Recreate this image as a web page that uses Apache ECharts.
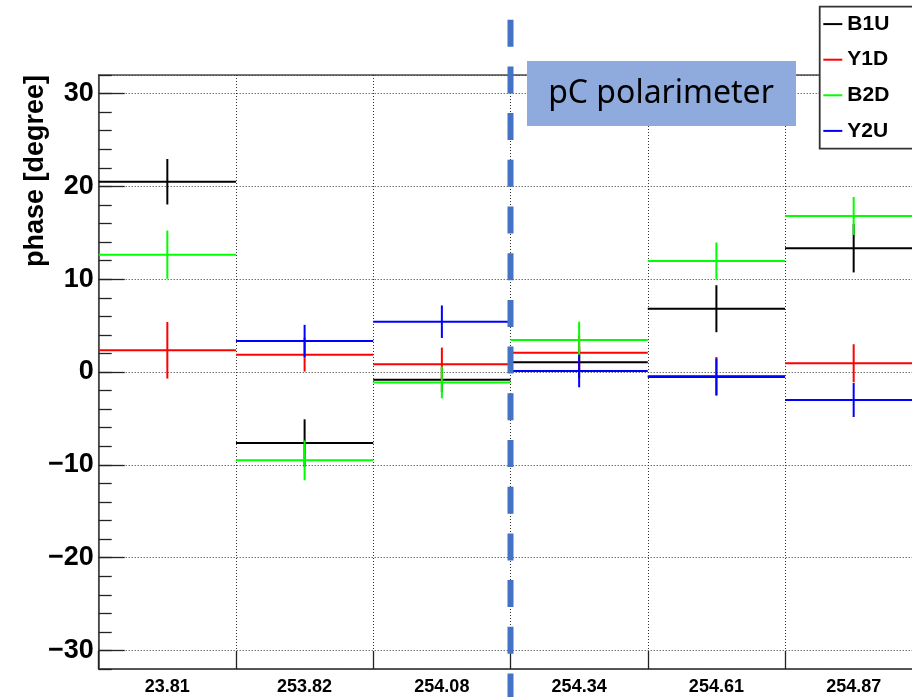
<!DOCTYPE html>
<html>
<head>
<meta charset="utf-8">
<script src="https://cdn.jsdelivr.net/npm/echarts@6/dist/echarts.min.js"></script>
<style>
  html, body { margin: 0; padding: 0; background: #fff; }
  #chart { width: 912px; height: 697px; }
</style>
</head>
<body>
<div id="chart"></div>
<script>
// ---- data ----
const categories = ['23.81', '253.82', '254.08', '254.34', '254.61', '254.87'];
const seriesNames = ['B1U', 'Y1D', 'B2D', 'Y2U'];
const seriesColors = ['#000000', '#ff0000', '#00ff00', '#0000ff'];
const b1uValues = [20.5, -7.65, -0.83, 1.04, 6.82, 13.33];
const b1uErrors = [2.45, 2.55, 1.3, 1.7, 2.53, 2.6];
const y1dValues = [2.34, 1.87, 0.83, 2.08, -0.43, 0.94];
const y1dErrors = [3.05, 1.83, 1.8, 1.8, 2.05, 2.05];
const b2dValues = [12.64, -9.52, -1.13, 3.45, 11.96, 16.81];
const b2dErrors = [2.6, 2.15, 1.7, 1.97, 2.0, 2.05];
const y2uValues = [null, 3.34, 5.42, 0.11, -0.55, -3.02];
const y2uErrors = [null, 1.74, 1.75, 1.76, 2.0, 1.83];
const yTickLabels = [-30, -20, -10, 0, 10, 20, 30];
const dividerAfterCategory = 2; // dashed line between 254.08 and 254.34

const allValues = [b1uValues, y1dValues, b2dValues, y2uValues];
const allErrors = [b1uErrors, y1dErrors, b2dErrors, y2uErrors];

function buildData(vals, errs) {
  const out = [];
  vals.forEach((v, i) => { if (v !== null) out.push([i, v, errs[i]]); });
  return out;
}

function renderErr(params, api) {
  const cat = api.value(0), v = api.value(1), e = api.value(2);
  const c = api.coord([cat, v]);
  const bw = api.size([1, 0])[0];
  const top = api.coord([cat, v + e]);
  const bot = api.coord([cat, v - e]);
  const color = api.visual('color');
  return {
    type: 'group',
    children: [
      { type: 'line', shape: { x1: c[0] - bw / 2, y1: c[1], x2: c[0] + bw / 2, y2: c[1] },
        style: { stroke: color, lineWidth: 2 } },
      { type: 'line', shape: { x1: c[0], y1: top[1], x2: c[0], y2: bot[1] },
        style: { stroke: color, lineWidth: 2 } }
    ]
  };
}

const chart = echarts.init(document.getElementById('chart'), null, { renderer: 'canvas' });
const axisColor = '#4d4d4d';
const fontFam = '"Liberation Sans", Arial, Helvetica, sans-serif';

const series = seriesNames.map((name, k) => ({
  name: name,
  type: 'custom',
  xAxisIndex: 0,
  yAxisIndex: 1,
  renderItem: renderErr,
  itemStyle: { color: seriesColors[k] },
  data: buildData(allValues[k], allErrors[k]),
  z: 3 + k,
  clip: false
}));

series.push({
  name: 'divider',
  type: 'custom',
  xAxisIndex: 0,
  yAxisIndex: 1,
  clip: false,
  z: 20,
  silent: true,
  data: [[dividerAfterCategory, 0]],
  renderItem: function (params, api) {
    const c = api.coord([api.value(0), 0]);
    const bw = api.size([1, 0])[0];
    const x = c[0] + bw / 2;
    return {
      type: 'line',
      shape: { x1: x, y1: 0, x2: x, y2: api.getHeight() },
      style: { stroke: '#4472C4', lineWidth: 6, lineDash: [27, 19.7], lineDashOffset: 27, lineCap: 'butt' }
    };
  }
});

chart.setOption({
  animation: false,
  backgroundColor: '#ffffff',
  grid: {
    left: 98.7, top: 75, width: 823.6, height: 594,
    outerBoundsMode: 'none',
    containLabel: false,
    show: true, borderColor: axisColor, borderWidth: 1.5, backgroundColor: 'transparent'
  },
  legend: {
    data: seriesNames,
    orient: 'vertical',
    left: 819.5, top: 6.5,
    icon: 'rect',
    itemWidth: 19, itemHeight: 2,
    itemGap: 13.6,
    padding: [6.6, 10, 6.3, 3.8],
    backgroundColor: 'transparent',
    borderWidth: 0,
    z: 31,
    selectedMode: false,
    textStyle: { fontFamily: fontFam, fontWeight: 'bold', fontSize: 21, color: '#000', lineHeight: 22 }
  },
  xAxis: [{
    type: 'category',
    data: categories,
    boundaryGap: true,
    axisLine: { show: true, onZero: false, lineStyle: { color: axisColor, width: 1.5 } },
    axisTick: { show: true, inside: true, length: 18, lineStyle: { color: '#222', width: 1.3 } },
    axisLabel: { margin: 9, fontFamily: fontFam, fontWeight: 'bold', fontSize: 18, color: '#000' },
    splitLine: { show: true, lineStyle: { color: '#333', width: 1, type: [1, 2] } }
  }],
  yAxis: [{
    // minor ticks (every 2)
    type: 'value',
    min: -32, max: 32, interval: 2,
    position: 'left',
    axisLine: { show: true, onZero: false, lineStyle: { color: axisColor, width: 1.5 } },
    axisTick: { show: true, inside: true, length: 13, lineStyle: { color: '#222', width: 1.3 } },
    axisLabel: { show: false },
    splitLine: { show: false }
  }, {
    // major ticks, labels, grid
    type: 'value',
    min: -32, max: 32,
    splitNumber: 5,
    position: 'left',
    offset: 0,
    axisLine: { show: false, onZero: false },
    axisTick: { show: true, inside: true, length: 26, lineStyle: { color: '#222', width: 1.3 } },
    axisLabel: {
      margin: 5,
      showMinLabel: false, showMaxLabel: false,
      fontFamily: fontFam, fontWeight: 'bold', fontSize: 27, color: '#000',
      formatter: function (v) {
        if (yTickLabels.indexOf(v) < 0) return '';
        return v < 0 ? '\u2212' + Math.abs(v) : String(v);
      }
    },
    splitLine: { show: true, lineStyle: { color: '#333', width: 1, type: [1, 2] } }
  }],
  series: series,
  graphic: [
    {
      type: 'text',
      x: 36, y: 171,
      rotation: Math.PI / 2,
      style: {
        text: 'phase [degree]',
        font: 'bold 27px ' + fontFam,
        fill: '#000',
        align: 'center',
        verticalAlign: 'middle'
      },
      z: 10
    },
    {
      type: 'rect',
      shape: { x: 527, y: 61, width: 269, height: 65 },
      style: { fill: '#8FAADC' },
      z: 25
    },
    {
      type: 'text',
      x: 661, y: 94,
      style: {
        text: 'pC polarimeter',
        font: '32px "Noto Sans", "Open Sans", sans-serif',
        fill: '#000',
        align: 'center',
        verticalAlign: 'middle'
      },
      z: 26
    },
    {
      // legend frame (extends past the right edge like the reference)
      type: 'rect',
      shape: { x: 819.7, y: 6.7, width: 130, height: 142 },
      style: { fill: '#ffffff', stroke: '#333333', lineWidth: 1.8 },
      z: 28
    }
  ]
});
</script>
</body>
</html>
